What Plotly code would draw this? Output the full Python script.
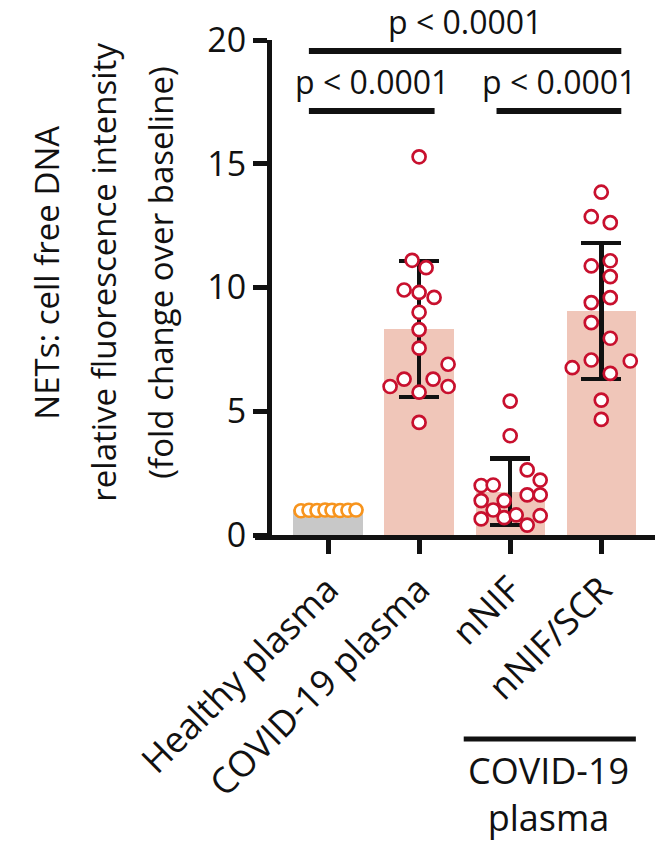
import plotly.graph_objects as go

# ---------------- data ----------------
categories = ["Healthy plasma", "COVID-19 plasma", "nNIF", "nNIF/SCR"]

healthy_vals = [0.98, 1.0, 0.99, 1.01, 1.0, 0.99, 1.0, 1.01]
covid_vals = [15.28, 11.1, 10.8, 9.9, 9.8, 9.6, 9.0, 8.3, 7.55, 6.9, 6.3, 6.3, 6.0, 6.0, 5.77, 4.55]
nnif_vals = [5.41, 4.01, 2.63, 2.22, 2.0, 2.02, 1.62, 1.62, 1.39, 1.39, 1.01, 0.65, 0.7, 0.81, 0.78, 0.40]
scr_vals = [13.85, 12.86, 12.62, 10.87, 11.08, 10.44, 9.39, 9.59, 8.58, 7.95, 7.07, 6.76, 7.03, 6.53, 5.45, 4.67]

bar_means = [1.0, 8.33, 1.75, 9.05]
bar_sds = [0.0, 2.75, 1.35, 2.74]

# horizontal scatter spread of the points (pixels), as laid out in the reference
healthy_jit = [-27, -19, -11, -3, 4, 12, 20, 28]
covid_jit = [0, -7, 7, -15, 0, 15, 0, 0, 0, 29, -15, 14, -29, 29, 0, 0]
nnif_jit = [0, 0, 17, 30, -29, -17, 17, 30, -29, -6, -17, -29, -6, 6, 30, 17]
scr_jit = [0, -10, 9, -10, 9, 9, -10, 9, -10, 9, -10, -29, 29, 9, 0, 0]

y_ticks = [0, 5, 10, 15, 20]
y_title_lines = ["NETs: cell free DNA",
                 "relative fluorescence intensity",
                 "(fold change over baseline)"]
comparisons = [(0, 1, 17.13, "p < 0.0001"), (2, 3, 17.13, "p < 0.0001"), (0, 3, 19.56, "p < 0.0001")]
group_label = "COVID-19<br>plasma"

# ---------------- layout geometry ----------------
W, H = 664, 843
ML, MR, MT, MB = 272, 9, 40, 308
x_range = [-0.615, 3.59]
plot_w = W - ML - MR
plot_h = H - MT - MB
px_per_x = plot_w / (x_range[1] - x_range[0])

FONT = "Open Sans"
BLACK = "#111111"
RED = "#c8102e"
ORANGE = "#f7941d"
SALMON = "#f0c6b9"
GRAY = "#c8c8c8"

fig = go.Figure()

fig.add_trace(go.Bar(
    x=list(range(len(categories))), y=bar_means,
    width=0.76,
    marker=dict(color=[GRAY, SALMON, SALMON, SALMON], line=dict(width=0)),
    error_y=dict(type="data", array=bar_sds, visible=True,
                 color=BLACK, thickness=4.5, width=20),
    showlegend=False, hoverinfo="skip",
))

groups = [(0, healthy_vals, healthy_jit, ORANGE),
          (1, covid_vals, covid_jit, RED),
          (2, nnif_vals, nnif_jit, RED),
          (3, scr_vals, scr_jit, RED)]
for idx, vals, jit, col in groups:
    fig.add_trace(go.Scatter(
        x=[idx + j / px_per_x for j in jit], y=vals,
        mode="markers",
        marker=dict(symbol="circle", size=13, color="white",
                    line=dict(color=col, width=2.7)),
        showlegend=False, hoverinfo="skip", cliponaxis=False,
    ))

shapes = []
annotations = []
# significance brackets
for a, b, yv, txt in comparisons:
    x0 = a - 0.21 if a == 0 else a - 0.15
    x1 = b + 0.17 if b == 1 else b + 0.22
    shapes.append(dict(type="line", xref="x", yref="y", x0=x0, x1=x1, y0=yv, y1=yv,
                       line=dict(color=BLACK, width=6)))
    annotations.append(dict(x=(x0 + x1) / 2, y=yv, xref="x", yref="y", text=txt,
                            showarrow=False, yanchor="bottom", yshift=6,
                            font=dict(family=FONT, size=32, color=BLACK)))

# y-axis title lines
for i, line in enumerate(y_title_lines):
    px = 47 + i * 57
    annotations.append(dict(x=(px - ML) / plot_w, y=0.53, xref="paper", yref="paper",
                            text=line, textangle=-90, showarrow=False,
                            xanchor="center", yanchor="middle",
                            font=dict(family=FONT, size=33, color=BLACK)))

# group bracket under nNIF and nNIF/SCR
gy = (MT + plot_h - 739) / plot_h
shapes.append(dict(type="line", xref="x", yref="paper", x0=1.49, x1=3.38, y0=gy, y1=gy,
                   line=dict(color=BLACK, width=5)))
annotations.append(dict(x=2.42, y=gy, xref="x", yref="paper", text=group_label,
                        showarrow=False, yanchor="top", yshift=-5,
                        font=dict(family=FONT, size=36, color=BLACK)))

# extend x axis line to the left under the y ticks
shapes.append(dict(type="line", xref="paper", yref="paper", x0=-17 / plot_w, x1=0,
                   y0=-2.5 / plot_h, y1=-2.5 / plot_h, line=dict(color=BLACK, width=5)))

fig.update_layout(
    width=W, height=H,
    margin=dict(l=ML, r=MR, t=MT, b=MB),
    paper_bgcolor="white", plot_bgcolor="white",
    font=dict(family=FONT, size=34, color=BLACK),
    shapes=shapes, annotations=annotations,
    bargap=0,
    xaxis=dict(range=x_range, tickvals=list(range(len(categories))), ticktext=categories,
               tickangle=-45, showline=True, linecolor=BLACK, linewidth=5,
               ticks="outside", ticklen=14, tickwidth=4.5, tickcolor=BLACK,
               showgrid=False, zeroline=False,
               tickfont=dict(family=FONT, size=36, color=BLACK)),
    yaxis=dict(range=[0, 20], tickvals=y_ticks, showline=True, linecolor=BLACK,
               linewidth=5, ticks="outside", ticklen=14, tickwidth=4.5, tickcolor=BLACK,
               showgrid=False, zeroline=False,
               tickfont=dict(family=FONT, size=34, color=BLACK)),
)

fig.write_html("out.html")
